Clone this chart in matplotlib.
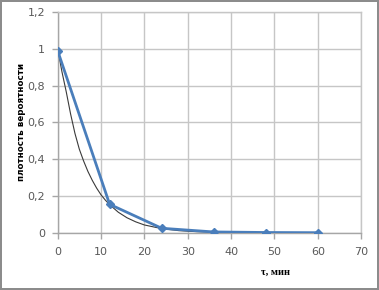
import matplotlib
matplotlib.use('Agg')
import matplotlib.pyplot as plt
from matplotlib.ticker import FuncFormatter

# экспериментальные точки
t_exp = [0, 12, 24, 36, 48, 60]
p_exp = [0.99, 0.155, 0.025, 0.005, 0.002, 0.001]

# теоретическая кривая
t_theor = [0, 1, 2, 3, 4, 5, 6, 7, 8, 9, 10, 11, 12, 14, 16, 18, 20, 24, 28, 32, 36, 42, 50]
p_theor = [1.0, 0.875, 0.765, 0.645, 0.54, 0.455, 0.39, 0.333, 0.285, 0.243, 0.207, 0.178, 0.153,
           0.112, 0.082, 0.06, 0.043, 0.023, 0.012, 0.0065, 0.0033, 0.0013, 0.0004]

x_ticks = [0, 10, 20, 30, 40, 50, 60, 70]
y_ticks = [0, 0.2, 0.4, 0.6, 0.8, 1.0, 1.2]

grid_c = '#c6c6c6'
text_c = '#595959'

fig = plt.figure(figsize=(3.79, 2.90), dpi=100)
fig.patch.set_edgecolor('#8c8c8c')
fig.patch.set_linewidth(1.5)
ax = fig.add_axes([0.152, 0.197, 0.801, 0.762])

ax.plot(t_theor, p_theor, color='#3a3a3a', lw=0.8, zorder=2)
ax.plot(t_exp, p_exp, color='#4a7ebb', lw=2.0, marker='D', ms=4.5,
        mec='#4a7ebb', mfc='#4a7ebb', zorder=3)

ax.set_xlim(0, 70)
ax.set_ylim(0, 1.2)
ax.set_xticks(x_ticks)
ax.set_yticks(y_ticks)
ax.yaxis.set_major_formatter(FuncFormatter(lambda v, p: ('%g' % round(v, 1)).replace('.', ',')))
ax.grid(True, color=grid_c, lw=1.0)
ax.set_axisbelow(True)
for s in ax.spines.values():
    s.set_color(grid_c)
    s.set_linewidth(1.0)
ax.spines['bottom'].set_color('#a6a6a6')
ax.spines['left'].set_color('#a6a6a6')
ax.tick_params(axis='both', colors='#a6a6a6', labelcolor=text_c, labelsize=8, length=4, width=1)
ax.tick_params(axis='x', pad=6)
ax.tick_params(axis='y', pad=5)

fig.text(0.056, 0.578, 'плотность вероятности', rotation=90, ha='center', va='center',
         fontsize=6.3, fontweight='bold', color='black')
fig.text(0.726, 0.062, 'τ, мин', ha='center', va='center', fontsize=7.5,
         fontweight='bold', family='Liberation Serif', color='black')

fig.savefig('out.png', dpi=100, edgecolor=fig.get_edgecolor())
